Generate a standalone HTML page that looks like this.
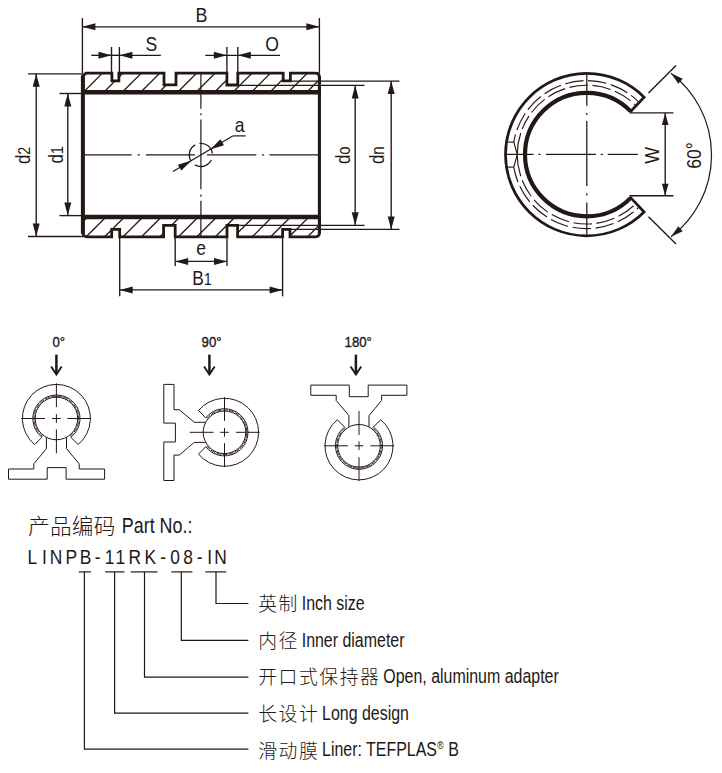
<!DOCTYPE html>
<html><head><meta charset="utf-8"><title>LINPB Part No.</title>
<style>
html,body{margin:0;padding:0;background:#fff;}
svg{display:block;}
svg text{stroke:none;fill:#231815;}
svg text[stroke]{stroke:#231815;}
</style></head>
<body>
<svg width="722" height="773" viewBox="0 0 722 773" stroke="#231815" fill="#231815" font-family="'Liberation Sans',sans-serif" stroke-linecap="butt">
<g stroke="#231815">
<defs>
<clipPath id="ct"><path d="M83.0,92.3 L83.0,75.69999999999999 L86.0,73.1 L111.9,73.1 L111.9,80.8 L118.9,80.8 L118.9,73.1 L164.0,73.1 L164.0,84.8 L176.0,84.8 L176.0,73.1 L226.9,73.1 L226.9,85.0 L237.8,85.0 L237.8,73.1 L283.2,73.1 L283.2,80.9 L290.4,80.9 L290.4,73.1 L315.4,73.1 Q319.4,73.1 319.4,77.1 L319.4,92.3 Z"/></clipPath>
<clipPath id="cb"><path d="M83.0,217.0 L83.0,232.8 Q83.0,236.8 87.0,236.8 L111.7,236.8 L111.7,229.4 L119.7,229.4 L119.7,236.8 L163.6,236.8 L163.6,225.3 L175.2,225.3 L175.2,236.8 L227.0,236.8 L227.0,225.3 L237.6,225.3 L237.6,236.8 L282.6,236.8 L282.6,229.4 L290.0,229.4 L290.0,236.8 L315.4,236.8 Q319.4,236.8 319.4,232.8 L319.4,217.0 Z"/></clipPath>
</defs>
<g clip-path="url(#ct)" stroke-width="1.3">
<line x1="64.85" y1="92.30" x2="84.05" y2="73.10"/>
<line x1="83.30" y1="92.30" x2="102.50" y2="73.10"/>
<line x1="103.75" y1="92.30" x2="122.95" y2="73.10"/>
<line x1="122.20" y1="92.30" x2="141.40" y2="73.10"/>
<line x1="140.65" y1="92.30" x2="159.85" y2="73.10"/>
<line x1="159.10" y1="92.30" x2="178.30" y2="73.10"/>
<line x1="177.55" y1="92.30" x2="196.75" y2="73.10"/>
<line x1="196.00" y1="92.30" x2="215.20" y2="73.10"/>
<line x1="214.45" y1="92.30" x2="233.65" y2="73.10"/>
<line x1="232.90" y1="92.30" x2="252.10" y2="73.10"/>
<line x1="251.35" y1="92.30" x2="270.55" y2="73.10"/>
<line x1="269.80" y1="92.30" x2="289.00" y2="73.10"/>
<line x1="288.25" y1="92.30" x2="307.45" y2="73.10"/>
<line x1="306.70" y1="92.30" x2="325.90" y2="73.10"/>
</g>
<g clip-path="url(#cb)" stroke-width="1.3">
<line x1="67.75" y1="236.80" x2="87.55" y2="217.00"/>
<line x1="86.20" y1="236.80" x2="106.00" y2="217.00"/>
<line x1="104.65" y1="236.80" x2="124.45" y2="217.00"/>
<line x1="123.10" y1="236.80" x2="142.90" y2="217.00"/>
<line x1="141.55" y1="236.80" x2="161.35" y2="217.00"/>
<line x1="160.00" y1="236.80" x2="179.80" y2="217.00"/>
<line x1="178.45" y1="236.80" x2="198.25" y2="217.00"/>
<line x1="196.90" y1="236.80" x2="216.70" y2="217.00"/>
<line x1="215.35" y1="236.80" x2="235.15" y2="217.00"/>
<line x1="233.80" y1="236.80" x2="253.60" y2="217.00"/>
<line x1="252.25" y1="236.80" x2="272.05" y2="217.00"/>
<line x1="270.70" y1="236.80" x2="290.50" y2="217.00"/>
<line x1="289.15" y1="236.80" x2="308.95" y2="217.00"/>
<line x1="307.60" y1="236.80" x2="327.40" y2="217.00"/>
</g>
<line x1="237.80" y1="85.40" x2="364.50" y2="85.40" stroke-width="1.35" />
<line x1="290.40" y1="81.10" x2="399.50" y2="81.10" stroke-width="1.35" />
<line x1="237.60" y1="225.30" x2="364.50" y2="225.30" stroke-width="1.35" />
<line x1="290.00" y1="229.40" x2="399.50" y2="229.40" stroke-width="1.35" />
<path d="M83.0,92.3 L83.0,75.69999999999999 L86.0,73.1 L111.9,73.1 L111.9,80.8 L118.9,80.8 L118.9,73.1 L164.0,73.1 L164.0,84.8 L176.0,84.8 L176.0,73.1 L226.9,73.1 L226.9,85.0 L237.8,85.0 L237.8,73.1 L283.2,73.1 L283.2,80.9 L290.4,80.9 L290.4,73.1 L315.4,73.1 Q319.4,73.1 319.4,77.1 L319.4,92.3" fill="none" stroke-width="2.8" stroke-linejoin="miter"/>
<path d="M83.0,217.0 L83.0,232.8 Q83.0,236.8 87.0,236.8 L111.7,236.8 L111.7,229.4 L119.7,229.4 L119.7,236.8 L163.6,236.8 L163.6,225.3 L175.2,225.3 L175.2,236.8 L227.0,236.8 L227.0,225.3 L237.6,225.3 L237.6,236.8 L282.6,236.8 L282.6,229.4 L290.0,229.4 L290.0,236.8 L315.4,236.8 Q319.4,236.8 319.4,232.8 L319.4,217.0" fill="none" stroke-width="2.8" stroke-linejoin="miter"/>
<line x1="82.90" y1="75.60" x2="82.90" y2="233.80" stroke-width="4.0" />
<line x1="319.40" y1="76.10" x2="319.40" y2="233.80" stroke-width="3.1" />
<line x1="81.10" y1="92.30" x2="320.90" y2="92.30" stroke-width="4.4" />
<line x1="81.10" y1="217.00" x2="320.90" y2="217.00" stroke-width="4.5" />
<line x1="200.90" y1="73.10" x2="200.90" y2="108.70" stroke-width="1.2" />
<line x1="200.90" y1="113.20" x2="200.90" y2="115.30" stroke-width="1.2" />
<line x1="200.90" y1="119.40" x2="200.90" y2="189.20" stroke-width="1.2" />
<line x1="200.90" y1="194.60" x2="200.90" y2="196.70" stroke-width="1.2" />
<line x1="200.90" y1="200.80" x2="200.90" y2="236.80" stroke-width="1.2" />
<line x1="83.00" y1="154.90" x2="131.70" y2="154.90" stroke-width="1.2" />
<line x1="137.70" y1="154.90" x2="139.80" y2="154.90" stroke-width="1.2" />
<line x1="146.00" y1="154.90" x2="194.90" y2="154.90" stroke-width="1.2" />
<line x1="207.10" y1="154.90" x2="256.30" y2="154.90" stroke-width="1.2" />
<line x1="262.00" y1="154.90" x2="264.10" y2="154.90" stroke-width="1.2" />
<line x1="269.50" y1="154.90" x2="319.40" y2="154.90" stroke-width="1.2" />
<path d="M212.41,153.49 A11.6,11.6 0 0 0 199.49,143.39" fill="none" stroke-width="1.3"/>
<path d="M195.10,144.85 A11.6,11.6 0 0 0 191.06,161.05" fill="none" stroke-width="1.3"/>
<path d="M194.75,164.74 A11.6,11.6 0 0 0 211.33,159.99" fill="none" stroke-width="1.3"/>
<line x1="173.00" y1="171.40" x2="232.70" y2="135.90" stroke-width="1.2" />
<line x1="232.70" y1="135.90" x2="245.70" y2="135.90" stroke-width="1.2" />
<polygon points="210.17,149.39 220.47,139.31 223.94,145.15" fill="#231815" stroke="none"/>
<polygon points="191.63,160.41 181.33,170.49 177.86,164.65" fill="#231815" stroke="none"/>
<line x1="82.40" y1="18.00" x2="82.40" y2="73.10" stroke-width="1.35" />
<line x1="319.40" y1="18.00" x2="319.40" y2="73.10" stroke-width="1.35" />
<line x1="82.40" y1="26.80" x2="319.40" y2="26.80" stroke-width="1.35" />
<polygon points="82.40,26.80 95.40,23.30 95.40,30.30" fill="#231815" stroke="none"/>
<polygon points="319.40,26.80 306.40,30.30 306.40,23.30" fill="#231815" stroke="none"/>
<line x1="111.50" y1="47.00" x2="111.50" y2="73.10" stroke-width="1.35" />
<line x1="119.40" y1="47.00" x2="119.40" y2="78.00" stroke-width="1.35" />
<line x1="91.30" y1="55.30" x2="119.40" y2="55.30" stroke-width="1.35" />
<polygon points="111.50,55.30 98.50,58.80 98.50,51.80" fill="#231815" stroke="none"/>
<line x1="119.40" y1="55.30" x2="160.80" y2="55.30" stroke-width="1.35" />
<polygon points="119.40,55.30 132.40,51.80 132.40,58.80" fill="#231815" stroke="none"/>
<line x1="226.90" y1="47.00" x2="226.90" y2="73.10" stroke-width="1.35" />
<line x1="237.80" y1="47.00" x2="237.80" y2="82.00" stroke-width="1.35" />
<line x1="205.30" y1="55.30" x2="237.80" y2="55.30" stroke-width="1.35" />
<polygon points="226.90,55.30 213.90,58.80 213.90,51.80" fill="#231815" stroke="none"/>
<line x1="237.80" y1="55.30" x2="280.00" y2="55.30" stroke-width="1.35" />
<polygon points="237.80,55.30 250.80,51.80 250.80,58.80" fill="#231815" stroke="none"/>
<line x1="28.00" y1="73.80" x2="83.00" y2="73.80" stroke-width="1.35" />
<line x1="28.00" y1="236.50" x2="83.00" y2="236.50" stroke-width="1.35" />
<line x1="36.20" y1="73.80" x2="36.20" y2="236.50" stroke-width="1.35" />
<polygon points="36.20,73.80 39.70,86.80 32.70,86.80" fill="#231815" stroke="none"/>
<polygon points="36.20,236.50 32.70,223.50 39.70,223.50" fill="#231815" stroke="none"/>
<line x1="59.40" y1="93.50" x2="83.00" y2="93.50" stroke-width="1.35" />
<line x1="59.40" y1="215.60" x2="83.00" y2="215.60" stroke-width="1.35" />
<line x1="67.80" y1="93.50" x2="67.80" y2="215.60" stroke-width="1.35" />
<polygon points="67.80,93.50 71.30,106.50 64.30,106.50" fill="#231815" stroke="none"/>
<polygon points="67.80,215.60 64.30,202.60 71.30,202.60" fill="#231815" stroke="none"/>
<line x1="355.20" y1="85.40" x2="355.20" y2="225.30" stroke-width="1.35" />
<polygon points="355.20,85.40 358.70,98.40 351.70,98.40" fill="#231815" stroke="none"/>
<polygon points="355.20,225.30 351.70,212.30 358.70,212.30" fill="#231815" stroke="none"/>
<line x1="391.20" y1="81.10" x2="391.20" y2="229.40" stroke-width="1.35" />
<polygon points="391.20,81.10 394.70,94.10 387.70,94.10" fill="#231815" stroke="none"/>
<polygon points="391.20,229.40 387.70,216.40 394.70,216.40" fill="#231815" stroke="none"/>
<line x1="175.20" y1="236.80" x2="175.20" y2="266.00" stroke-width="1.35" />
<line x1="227.00" y1="236.80" x2="227.00" y2="266.00" stroke-width="1.35" />
<line x1="175.20" y1="261.40" x2="227.00" y2="261.40" stroke-width="1.35" />
<polygon points="175.20,261.40 188.20,257.90 188.20,264.90" fill="#231815" stroke="none"/>
<polygon points="227.00,261.40 214.00,264.90 214.00,257.90" fill="#231815" stroke="none"/>
<line x1="119.70" y1="231.00" x2="119.70" y2="296.30" stroke-width="1.35" />
<line x1="282.60" y1="231.00" x2="282.60" y2="296.30" stroke-width="1.35" />
<line x1="119.70" y1="289.90" x2="282.60" y2="289.90" stroke-width="1.35" />
<polygon points="119.70,289.90 132.70,286.40 132.70,293.40" fill="#231815" stroke="none"/>
<polygon points="282.60,289.90 269.60,293.40 269.60,286.40" fill="#231815" stroke="none"/>
<text transform="translate(201.40,22.00) scale(0.86,1)" font-size="20.8" text-anchor="middle" >B</text>
<text transform="translate(151.50,50.80) scale(0.86,1)" font-size="20.5" text-anchor="middle" >S</text>
<text transform="translate(272.00,50.80) scale(0.86,1)" font-size="20.5" text-anchor="middle" >O</text>
<text transform="translate(234.80,132.20) scale(0.86,1)" font-size="20.4" text-anchor="start" >a</text>
<text transform="translate(201.00,254.60) scale(0.86,1)" font-size="20.4" text-anchor="middle" >e</text>
<text transform="translate(192.30,284.60) scale(0.86,1)" font-size="20.2" text-anchor="start" >B<tspan font-size="16">1</tspan></text>
<text transform="translate(30.30,164.00) rotate(-90) scale(0.86,1)" font-size="19.5" text-anchor="start" >d<tspan font-size="16.6">2</tspan></text>
<text transform="translate(62.60,163.40) rotate(-90) scale(0.86,1)" font-size="19.5" text-anchor="start" >d<tspan font-size="16.6">1</tspan></text>
<text transform="translate(350.00,164.00) rotate(-90) scale(0.86,1)" font-size="19.5" text-anchor="start" >d<tspan font-size="17.5">o</tspan></text>
<text transform="translate(383.70,164.00) rotate(-90) scale(0.86,1)" font-size="19.5" text-anchor="start" >d<tspan font-size="17.5">n</tspan></text>
<path d="M629.93,112.27 L644.12,97.18 A81.2,81.2 0 1 0 644.12,212.02 L629.93,196.93" fill="none" stroke-width="2.7" stroke-linejoin="miter"/>
<path d="M630.71,111.35 A61.7,61.7 0 1 0 630.71,197.85" fill="none" stroke-width="4.2" />
<path d="M638.29,101.55 A74.0,74.0 0 0 0 513.76,142.10" fill="none" stroke-width="1.15" stroke-dasharray="18.5 4.6" stroke-dashoffset="9"/>
<path d="M513.76,167.10 A74.0,74.0 0 0 0 638.29,207.65" fill="none" stroke-width="1.15" stroke-dasharray="18.5 4.6" stroke-dashoffset="3"/>
<path d="M635.08,104.85 A69.4,69.4 0 0 0 522.19,129.01" fill="none" stroke-width="1.15" stroke-dasharray="18.5 4.6" stroke-dashoffset="17"/>
<path d="M520.75,133.00 A69.4,69.4 0 0 0 520.75,176.20" fill="none" stroke-width="1.15" />
<path d="M522.19,180.19 A69.4,69.4 0 0 0 635.08,204.35" fill="none" stroke-width="1.15" stroke-dasharray="18.5 4.6" stroke-dashoffset="0"/>
<line x1="505.50" y1="142.10" x2="513.80" y2="142.10" stroke-width="1.15" />
<line x1="505.50" y1="167.10" x2="513.80" y2="167.10" stroke-width="1.15" />
<line x1="513.80" y1="142.10" x2="517.30" y2="154.60" stroke-width="1.15" />
<line x1="513.80" y1="167.10" x2="517.30" y2="154.60" stroke-width="1.15" />
<line x1="586.80" y1="73.60" x2="586.80" y2="105.80" stroke-width="1.25" />
<line x1="586.80" y1="112.90" x2="586.80" y2="115.00" stroke-width="1.25" />
<line x1="586.80" y1="120.90" x2="586.80" y2="186.10" stroke-width="1.25" />
<line x1="586.80" y1="193.30" x2="586.80" y2="195.40" stroke-width="1.25" />
<line x1="586.80" y1="202.40" x2="586.80" y2="236.20" stroke-width="1.25" />
<line x1="505.30" y1="154.40" x2="533.60" y2="154.40" stroke-width="1.25" />
<line x1="538.40" y1="154.40" x2="540.50" y2="154.40" stroke-width="1.25" />
<line x1="546.00" y1="154.40" x2="596.00" y2="154.40" stroke-width="1.25" />
<line x1="600.70" y1="154.40" x2="602.80" y2="154.40" stroke-width="1.25" />
<line x1="607.70" y1="154.40" x2="637.80" y2="154.40" stroke-width="1.25" />
<line x1="629.80" y1="112.85" x2="673.50" y2="112.85" stroke-width="1.35" />
<line x1="629.40" y1="195.70" x2="673.50" y2="195.70" stroke-width="1.35" />
<line x1="665.20" y1="112.90" x2="665.20" y2="195.70" stroke-width="1.35" />
<polygon points="665.20,112.90 668.50,124.90 661.90,124.90" fill="#231815" stroke="none"/>
<polygon points="665.20,195.70 661.90,183.70 668.50,183.70" fill="#231815" stroke="none"/>
<text transform="translate(659.40,155.40) rotate(-90) scale(0.86,1)" font-size="20.6" text-anchor="middle" >W</text>
<line x1="648.50" y1="92.90" x2="676.00" y2="65.60" stroke-width="1.35" />
<line x1="648.50" y1="216.70" x2="676.00" y2="244.00" stroke-width="1.35" />
<path d="M671.0,73.2 A102.8,102.8 0 0 1 671.0,236.8" fill="none" stroke-width="1.2"/>
<polygon points="671.00,73.20 682.63,78.85 678.33,83.85" fill="#231815" stroke="none"/>
<polygon points="671.00,236.80 678.34,226.16 682.64,231.17" fill="#231815" stroke="none"/>
<text transform="translate(701.00,155.50) rotate(-90) scale(0.86,1)" font-size="20.4" text-anchor="middle" >60°</text>
<g transform="translate(56.4,418.5) rotate(0)" fill="none" stroke-width="1.0">
<path d="M-14.4,18.8 L-21.8,26.0 A34.0,34.0 0 1 1 21.8,26.0 L14.4,18.8 A23.6,23.6 0 1 0 -14.4,18.8 Z"/>
<circle cx="0" cy="0" r="21.3"/>
<path d="M-13.60,17.70 A22.3,22.3 0 1 1 13.6,17.7" stroke-width="0.9" stroke-dasharray="5 1.2"/>
<path d="M-10.0,18.9 L-10.0,30.2 L-22.6,45.3 L-22.6,50.5 L-47.9,50.5 L-47.9,60.7 L-9.2,60.7 L-9.2,49.1 L9.7,49.1 L9.7,60.7 L48.2,60.7 L48.2,50.5 L22.8,50.5 L22.8,45.3 L10.1,30.2 L10.1,18.9"/>
<line x1="-35.2" y1="0" x2="-11.4" y2="0"/>
<line y1="-35.2" x1="0" y2="-11.4" x2="0"/>
<line x1="-4.3" y1="0" x2="4.3" y2="0"/>
<line y1="-4.3" x1="0" y2="4.3" x2="0"/>
<line x1="10.9" y1="0" x2="34.8" y2="0"/>
<line y1="10.9" x1="0" y2="34.8" x2="0"/>
</g>
<g transform="translate(224.5,432.3) rotate(90)" fill="none" stroke-width="1.0">
<path d="M-14.4,18.8 L-21.8,26.0 A34.0,34.0 0 1 1 21.8,26.0 L14.4,18.8 A23.6,23.6 0 1 0 -14.4,18.8 Z"/>
<circle cx="0" cy="0" r="21.3"/>
<path d="M-13.60,17.70 A22.3,22.3 0 1 1 13.6,17.7" stroke-width="0.9" stroke-dasharray="5 1.2"/>
<path d="M-10.0,18.9 L-10.0,30.2 L-22.6,45.3 L-22.6,50.5 L-47.9,50.5 L-47.9,60.7 L-9.2,60.7 L-9.2,49.1 L9.7,49.1 L9.7,60.7 L48.2,60.7 L48.2,50.5 L22.8,50.5 L22.8,45.3 L10.1,30.2 L10.1,18.9"/>
<line x1="-35.2" y1="0" x2="-11.4" y2="0"/>
<line y1="-35.2" x1="0" y2="-11.4" x2="0"/>
<line x1="-4.3" y1="0" x2="4.3" y2="0"/>
<line y1="-4.3" x1="0" y2="4.3" x2="0"/>
<line x1="10.9" y1="0" x2="34.8" y2="0"/>
<line y1="10.9" x1="0" y2="34.8" x2="0"/>
</g>
<g transform="translate(359.0,445.8) rotate(180)" fill="none" stroke-width="1.0">
<path d="M-14.4,18.8 L-21.8,26.0 A34.0,34.0 0 1 1 21.8,26.0 L14.4,18.8 A23.6,23.6 0 1 0 -14.4,18.8 Z"/>
<circle cx="0" cy="0" r="21.3"/>
<path d="M-13.60,17.70 A22.3,22.3 0 1 1 13.6,17.7" stroke-width="0.9" stroke-dasharray="5 1.2"/>
<path d="M-10.0,18.9 L-10.0,30.2 L-22.6,45.3 L-22.6,50.5 L-47.9,50.5 L-47.9,60.7 L-9.2,60.7 L-9.2,49.1 L9.7,49.1 L9.7,60.7 L48.2,60.7 L48.2,50.5 L22.8,50.5 L22.8,45.3 L10.1,30.2 L10.1,18.9"/>
<line x1="-35.2" y1="0" x2="-11.4" y2="0"/>
<line y1="-35.2" x1="0" y2="-11.4" x2="0"/>
<line x1="-4.3" y1="0" x2="4.3" y2="0"/>
<line y1="-4.3" x1="0" y2="4.3" x2="0"/>
<line x1="10.9" y1="0" x2="34.8" y2="0"/>
<line y1="10.9" x1="0" y2="34.8" x2="0"/>
</g>
<line x1="56.4" y1="354.6" x2="56.4" y2="373.8" stroke-width="2.5"/>
<path d="M51.1,366.6 L56.4,374.6 L61.699999999999996,366.6" fill="none" stroke-width="1.9" stroke-linejoin="miter"/>
<line x1="209.4" y1="354.6" x2="209.4" y2="373.8" stroke-width="2.5"/>
<path d="M204.1,366.6 L209.4,374.6 L214.70000000000002,366.6" fill="none" stroke-width="1.9" stroke-linejoin="miter"/>
<line x1="355.9" y1="354.6" x2="355.9" y2="373.8" stroke-width="2.5"/>
<path d="M350.59999999999997,366.6 L355.9,374.6 L361.2,366.6" fill="none" stroke-width="1.9" stroke-linejoin="miter"/>
<text transform="translate(52.40,347.20) scale(0.88,1)" font-size="15" text-anchor="start" stroke="#231815" stroke-width="0.35">0°</text>
<text transform="translate(201.60,347.20) scale(0.88,1)" font-size="15" text-anchor="start" stroke="#231815" stroke-width="0.35">90°</text>
<text transform="translate(344.60,347.20) scale(0.88,1)" font-size="15" text-anchor="start" stroke="#231815" stroke-width="0.35">180°</text>
<text x="28.0" y="533.6" font-size="21.6" letter-spacing="0.3" font-weight="300" font-family="'Liberation Sans','Noto Sans CJK SC',sans-serif">产品编码</text>
<text transform="translate(121.80,532.60) scale(0.83,1)" font-size="21.6" text-anchor="start" >Part No.:</text>
<text transform="scale(0.86,1)" x="32.09 48.95 57.79 76.16 92.79 110.23 121.86 134.30 149.53 167.91 186.28 197.91 213.14 228.72 240.93 249.07" y="563.7" font-size="20.2">LINPB-11RK-08-IN</text>
<line x1="78.80" y1="571.90" x2="91.00" y2="571.90" stroke-width="1.2" />
<path d="M84.4,571.9 L84.4,749.2 L248.4,749.2" fill="none" stroke-width="1.2"/>
<line x1="105.20" y1="571.90" x2="124.50" y2="571.90" stroke-width="1.2" />
<path d="M114.6,571.9 L114.6,713.2 L248.4,713.2" fill="none" stroke-width="1.2"/>
<line x1="130.60" y1="571.90" x2="157.50" y2="571.90" stroke-width="1.2" />
<path d="M144.5,571.9 L144.5,677.2 L248.4,677.2" fill="none" stroke-width="1.2"/>
<line x1="171.40" y1="571.90" x2="192.40" y2="571.90" stroke-width="1.2" />
<path d="M181.3,571.9 L181.3,640.3 L248.4,640.3" fill="none" stroke-width="1.2"/>
<line x1="205.40" y1="571.90" x2="226.20" y2="571.90" stroke-width="1.2" />
<path d="M216.0,571.9 L216.0,603.5 L248.4,603.5" fill="none" stroke-width="1.2"/>
<text x="258.2" y="611.3" font-size="18.8" letter-spacing="1.6" font-weight="300" font-family="'Liberation Sans','Noto Sans CJK SC',sans-serif">英制</text>
<text transform="translate(301.70,610.00) scale(0.827,1)" font-size="19.3" text-anchor="start" >Inch size</text>
<text x="258.2" y="647.9" font-size="18.8" letter-spacing="1.6" font-weight="300" font-family="'Liberation Sans','Noto Sans CJK SC',sans-serif">内径</text>
<text transform="translate(301.70,646.60) scale(0.827,1)" font-size="19.3" text-anchor="start" >Inner diameter</text>
<text x="258.2" y="684.3" font-size="18.8" letter-spacing="1.6" font-weight="300" font-family="'Liberation Sans','Noto Sans CJK SC',sans-serif">开口式保持器</text>
<text transform="translate(383.30,683.00) scale(0.827,1)" font-size="19.3" text-anchor="start" >Open, aluminum adapter</text>
<text x="258.2" y="721.0999999999999" font-size="18.8" letter-spacing="1.6" font-weight="300" font-family="'Liberation Sans','Noto Sans CJK SC',sans-serif">长设计</text>
<text transform="translate(322.10,719.80) scale(0.827,1)" font-size="19.3" text-anchor="start" >Long design</text>
<text x="258.2" y="757.6999999999999" font-size="18.8" letter-spacing="1.6" font-weight="300" font-family="'Liberation Sans','Noto Sans CJK SC',sans-serif">滑动膜</text>
<text transform="translate(322.10,756.40) scale(0.827,1)" font-size="19.3" text-anchor="start" >Liner: TEFPLAS<tspan font-size="11" dy="-7.5">®</tspan><tspan dy="7.5"> B</tspan></text>
</g></svg>
</body></html>
